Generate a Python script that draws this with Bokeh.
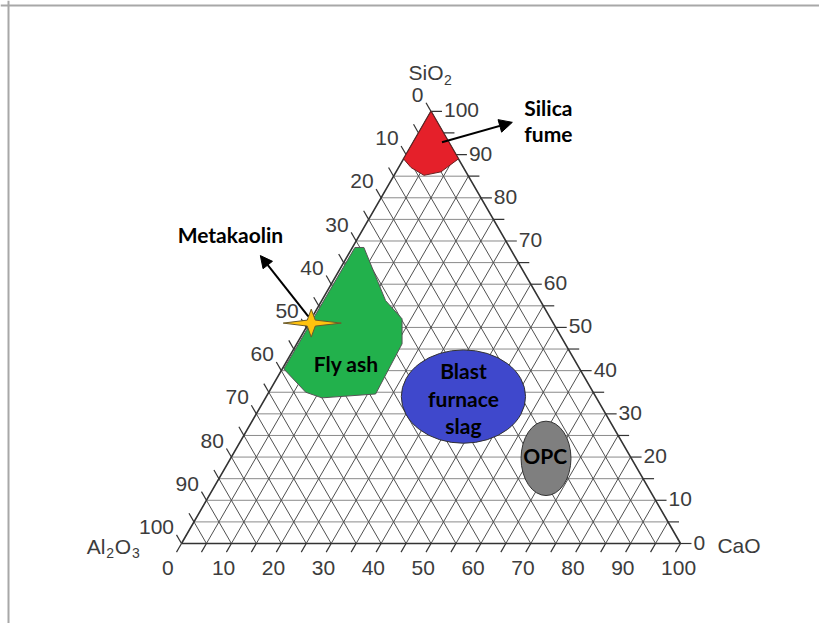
import math
from bokeh.plotting import figure
from bokeh.models import Arrow, NormalHead, Span
from bokeh.core.properties import value
from bokeh.embed import file_html
from bokeh.resources import INLINE

# ---------------- data ----------------
tick_values = list(range(0, 101, 10))          # labelled ticks
tick_labels = [str(v) for v in tick_values]
grid_values = list(range(5, 100, 5))           # grid every 5 %
minor_values = list(range(0, 101, 5))          # tick marks every 5 %

# regions as (CaO %, SiO2 %), Al2O3 = remainder
silica_cao = [0, 0, 2.5, 6, 9, 11]
silica_sio2 = [100, 89, 87, 85.2, 86, 89]

flyash_cao = [0.5, 2.3, 12.8, 18.2, 21.1, 21.6, 11.3, 7.4, 0.3]
flyash_sio2 = [68.5, 68.5, 56.2, 52.0, 46.2, 34.6, 33.7, 35.0, 40.4]

slag_cao, slag_sio2 = 39.5, 34.0
slag_w, slag_h = 24.9, 18.7

opc_cao, opc_sio2 = 63.2, 19.7
opc_w, opc_h = 10.0, 14.9

metakaolin_cao, metakaolin_sio2 = 0.5, 51.0

H = math.sqrt(3) / 2


def px(cao, sio2):
    return cao + sio2 / 2.0


def py(sio2):
    return sio2 * H


# ---------------- figure ----------------
S = 4.99  # px per unit
x0 = -181 / S
y1 = 543 / S
W, Hh = 819, 623
p = figure(width=W, height=Hh, x_range=(x0, x0 + W / S), y_range=(y1 - Hh / S, y1),
           output_backend="svg", toolbar_location=None, min_border=0,
           x_axis_location=None, y_axis_location=None)
p.grid.visible = False
p.outline_line_color = None
p.background_fill_color = "white"
p.border_fill_color = "white"

# frame lines (top/left)
p.add_layout(Span(location=y1 - 5.0 / S, dimension="width", line_color="#a8a8a8", line_width=2))
p.add_layout(Span(location=x0 + 8.0 / S, dimension="height", line_color="#a8a8a8", line_width=2))

# grid lines: constant SiO2
hx0 = [px(0, v) for v in grid_values]
hx1 = [px(100 - v, v) for v in grid_values]
hy = [py(v) for v in grid_values]
p.segment(hx0, hy, hx1, hy, line_color="#8a8a8a", line_width=1)

# constant CaO lines
cx0 = [px(c, 0) for c in grid_values]
cy0 = [0 for c in grid_values]
cx1 = [px(c, 100 - c) for c in grid_values]
cy1 = [py(100 - c) for c in grid_values]
p.segment(cx0, cy0, cx1, cy1, line_color="#505050", line_width=1)

# constant Al2O3 lines
ax0 = [px(100 - a, 0) for a in grid_values]
ay0 = [0 for a in grid_values]
ax1 = [px(0, 100 - a) for a in grid_values]
ay1 = [py(100 - a) for a in grid_values]
p.segment(ax0, ay0, ax1, ay1, line_color="#505050", line_width=1)

# triangle border
p.line([px(0, 0), px(100, 0), px(0, 100), px(0, 0)], [0, 0, py(100), 0],
       line_color="#333333", line_width=1.6)

# ticks
TL = 2.0
bx = [px(c, 0) for c in minor_values]
p.segment(bx, [0] * len(bx), [x - 0.5 * TL for x in bx], [-H * TL] * len(bx),
          line_color="#333333", line_width=1.2)
rx = [px(100 - s, s) for s in minor_values]
ry = [py(s) for s in minor_values]
p.segment(rx, ry, [x + TL * 1.1 for x in rx], ry, line_color="#333333", line_width=1.2)
lx = [px(0, 100 - a) for a in minor_values]
ly = [py(100 - a) for a in minor_values]
p.segment(lx, ly, [x - 0.5 * TL for x in lx], [y + H * TL for y in ly],
          line_color="#333333", line_width=1.2)

# regions
p.patch([px(c, s) for c, s in zip(silica_cao, silica_sio2)], [py(s) for s in silica_sio2],
        fill_color="#E5202A", line_color="#6a2020", line_width=1)
p.patch([px(c, s) for c, s in zip(flyash_cao, flyash_sio2)], [py(s) for s in flyash_sio2],
        fill_color="#22B14C", line_color="#555555", line_width=1)
p.ellipse(x=[px(slag_cao, slag_sio2)], y=[py(slag_sio2)], width=[slag_w], height=[slag_h],
          fill_color="#3F48CC", line_color="#333333", line_width=1)
p.ellipse(x=[px(opc_cao, opc_sio2)], y=[py(opc_sio2)], width=[opc_w], height=[opc_h],
          fill_color="#7F7F7F", line_color="#333333", line_width=1)

# metakaolin star (4-point, shape offsets in px)
mx, my = px(metakaolin_cao, metakaolin_sio2), py(metakaolin_sio2)
star_dx = [30, 4, 0, -4, -28, -4, 0, 4]
star_dy = [0, 3, 14, 3, 0, -3, -14, -3]
p.patch([mx + d / S for d in star_dx], [my + d / S for d in star_dy],
        fill_color="#FFC20E", line_color="#6b5a2a", line_width=1)

# arrows
p.add_layout(Arrow(end=NormalHead(size=13, fill_color="black", line_color="black"),
                   x_start=52.2, y_start=80.4, x_end=66.3, y_end=84.4,
                   line_color="black", line_width=2))
p.add_layout(Arrow(end=NormalHead(size=12, fill_color="black", line_color="black"),
                   x_start=25.4, y_start=45.5, x_end=15.8, y_end=57.7,
                   line_color="black", line_width=2))

# tick labels
AX_FONT = value("Liberation Sans")
AX_SIZE = "21px"
AX_COL = "#3c3c3c"
p.text([px(c, 0) - 3.9 for c in tick_values], [-5.0] * len(tick_values), text=tick_labels,
       text_font=AX_FONT, text_font_size=AX_SIZE, text_color=AX_COL,
       text_align="left", text_baseline="middle")
p.text([px(100 - s, s) + 2.6 for s in tick_values], [py(s) + 0.2 for s in tick_values],
       text=tick_labels, text_font=AX_FONT, text_font_size=AX_SIZE, text_color=AX_COL,
       text_align="left", text_baseline="middle")
p.text([px(0, 100 - a) - 1.5 for a in tick_values], [py(100 - a) + 3.3 for a in tick_values],
       text=tick_labels, text_font=AX_FONT, text_font_size=AX_SIZE, text_color=AX_COL,
       text_align="right", text_baseline="middle")

# axis titles (with subscripts)
p.text([45.5], [94.3], text=["SiO"], text_font=AX_FONT, text_font_size=AX_SIZE,
       text_color=AX_COL, text_align="left", text_baseline="middle")
p.text([52.6], [92.9], text=["2"], text_font=AX_FONT, text_font_size="14px",
       text_color=AX_COL, text_align="left", text_baseline="middle")
p.text([-19.0], [-0.6], text=["Al"], text_font=AX_FONT, text_font_size=AX_SIZE,
       text_color=AX_COL, text_align="left", text_baseline="middle")
p.text([-15.1], [-2.0], text=["2"], text_font=AX_FONT, text_font_size="14px",
       text_color=AX_COL, text_align="left", text_baseline="middle")
p.text([-13.4], [-0.6], text=["O"], text_font=AX_FONT, text_font_size=AX_SIZE,
       text_color=AX_COL, text_align="left", text_baseline="middle")
p.text([-9.9], [-2.0], text=["3"], text_font=AX_FONT, text_font_size="14px",
       text_color=AX_COL, text_align="left", text_baseline="middle")
p.text([107.4], [-0.4], text=["CaO"], text_font=AX_FONT, text_font_size=AX_SIZE,
       text_color=AX_COL, text_align="left", text_baseline="middle")

# region labels
LB_FONT = value("Lato")
LB_SIZE = "21px"
p.text([68.7, 68.7], [87.4, 82.2], text=["Silica", "fume"], text_font=LB_FONT,
       text_font_size=LB_SIZE, text_font_style="bold", text_color="black",
       text_align="left", text_baseline="middle")
p.text([9.8], [61.9], text=["Metakaolin"], text_font=LB_FONT, text_font_size=LB_SIZE,
       text_font_style="bold", text_color="black", text_align="center", text_baseline="middle")
p.text([33.0], [36.1], text=["Fly ash"], text_font=LB_FONT, text_font_size=LB_SIZE,
       text_font_style="bold", text_color="black", text_align="center", text_baseline="middle")
p.text([56.5, 56.5, 56.5], [34.7, 29.0, 23.6], text=["Blast", "furnace", "slag"],
       text_font=LB_FONT, text_font_size=LB_SIZE, text_font_style="bold", text_color="black",
       text_align="center", text_baseline="middle")
p.text([72.9], [17.6], text=["OPC"], text_font=LB_FONT, text_font_size=LB_SIZE,
       text_font_style="bold", text_color="black", text_align="center", text_baseline="middle")

open("out.html", "w").write(file_html(p, INLINE))
